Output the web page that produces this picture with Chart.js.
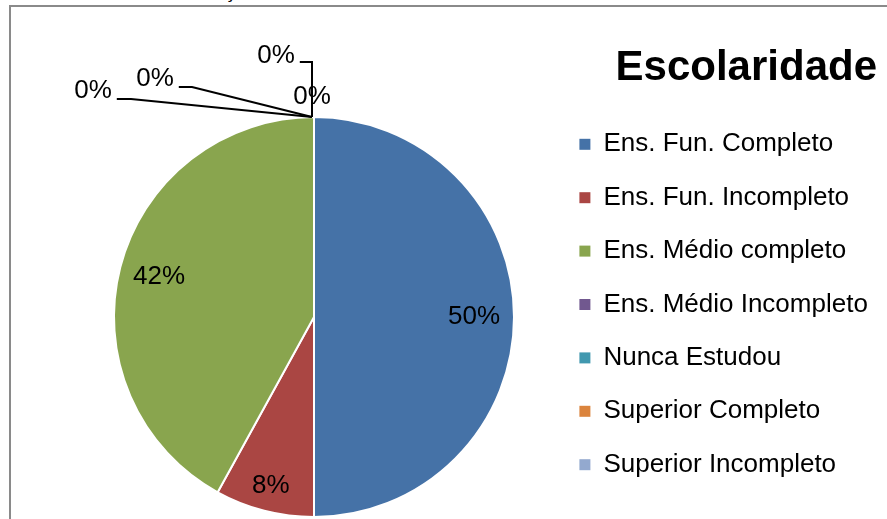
<!DOCTYPE html>
<html>
<head>
<meta charset="utf-8">
<script src="https://cdn.jsdelivr.net/npm/chart.js@4.4.0/dist/chart.umd.min.js"></script>
<style>
  html, body { margin: 0; padding: 0; background: #fff; }
  #wrap { position: relative; width: 887px; height: 519px; overflow: hidden; }
  #frame { position: absolute; left: 9px; top: 5px; right: -5px; bottom: -5px;
           border-left: 2px solid #8a8a8a; border-top: 2px solid #8a8a8a; }
  #cut { position: absolute; left: 225px; top: -18px; line-height: 20px;
         font: bold 18px "Liberation Sans", Arial, sans-serif; }
  canvas { position: absolute; left: 0; top: 0; }
</style>
</head>
<body>
<div id="wrap">
  <div id="cut">ç</div>
  <div id="frame"></div>
  <canvas id="chart" width="887" height="519"></canvas>
</div>
<script>
// Escolaridade - pie data
const categories = [
  'Ens. Fun. Completo',
  'Ens. Fun. Incompleto',
  'Ens. Médio completo',
  'Ens. Médio Incompleto',
  'Nunca Estudou',
  'Superior Completo',
  'Superior Incompleto'
];
const values = [50, 8, 42, 0, 0, 0, 0];
const colors = ['#4572A7', '#AA4643', '#89A54E', '#71588F', '#4198AF', '#DB843D', '#93A9CF'];

const FONT = '"Liberation Sans", Arial, sans-serif';

// callouts for the empty slices (offsets from the slice anchor)
const zeroCallouts = [
  { dx: -2, dy: -20 },
  { dx: -38, dy: -61, elbow: [-2, -55] },
  { dx: -159, dy: -38, elbow: [-122, -30] },
  { dx: -221, dy: -26, elbow: [-183, -18] }
];

const pieLabels = {
  id: 'pieLabels',
  afterDatasetsDraw(chart) {
    const ctx = chart.ctx;
    const meta = chart.getDatasetMeta(0);
    const data = chart.data.datasets[0].data;
    const total = data.reduce((a, b) => a + b, 0);
    let z = 0;
    ctx.save();
    ctx.font = '26px ' + FONT;
    ctx.fillStyle = '#000';
    ctx.strokeStyle = '#000';
    ctx.lineWidth = 2;
    ctx.textAlign = 'center';
    ctx.textBaseline = 'middle';
    meta.data.forEach((arc, i) => {
      const p = arc.getProps(['x', 'y', 'startAngle', 'endAngle', 'outerRadius'], true);
      const share = data[i] / total;
      const text = Math.round(share * 100) + '%';
      const mid = (p.startAngle + p.endAngle) / 2;
      if (data[i] > 0) {
        const f = share < 0.1 ? 0.87 : 0.8;
        ctx.fillText(text, p.x + Math.cos(mid) * p.outerRadius * f, p.y + Math.sin(mid) * p.outerRadius * f);
        return;
      }
      const ax = p.x + Math.cos(mid) * p.outerRadius;
      const ay = p.y + Math.sin(mid) * p.outerRadius;
      const c = zeroCallouts[z++] || zeroCallouts[0];
      const lx = ax + c.dx, ly = ay + c.dy;
      ctx.fillText(text, lx, ly);
      if (c.elbow) {
        const w = ctx.measureText(text).width;
        const ey = ay + c.elbow[1];
        ctx.beginPath();
        ctx.moveTo(lx + w / 2 + 5, ey);
        ctx.lineTo(ax + c.elbow[0], ey);
        ctx.lineTo(ax - 2, ay);
        ctx.stroke();
      }
    });
    ctx.restore();
  }
};

// keep the legend on the right, full height, single column
const legendBox = {
  id: 'legendBox',
  beforeLayout(chart) {
    const lg = chart.legend;
    if (!lg || lg._patched) return;
    const fit = lg.fit;
    lg.fit = function () {
      this.maxHeight = 519;
      fit.call(this);
      this.width = 324;
    };
    lg._patched = true;
  },
  afterLayout(chart) {
    const lg = chart.legend;
    lg.left = 552; lg.right = 877; lg.width = 325;
    lg.top = 0; lg.bottom = 519; lg.height = 519;
  }
};

new Chart(document.getElementById('chart'), {
  type: 'pie',
  data: {
    labels: categories,
    datasets: [{
      data: values,
      backgroundColor: colors,
      borderColor: '#fff',
      borderWidth: 2
    }]
  },
  options: {
    responsive: false,
    animation: false,
    layout: { padding: { left: 75, top: 116, right: 10, bottom: 1 } },
    plugins: {
      tooltip: { enabled: false },
      legend: {
        position: 'right',
        align: 'start',
        title: {
          display: true,
          text: 'Escolaridade',
          position: 'end',
          color: '#000',
          font: { family: FONT, size: 42, weight: 'bold', lineHeight: 1.2 },
          padding: { top: 47, bottom: 6.5 }
        },
        labels: {
          boxWidth: 11,
          boxHeight: 11,
          padding: 27.4,
          color: '#000',
          font: { family: FONT, size: 26 },
          generateLabels: (chart) => chart.data.labels.map((text, i) => ({
            text,
            fillStyle: colors[i],
            strokeStyle: colors[i],
            lineWidth: 0,
            hidden: false,
            index: i,
            fontColor: '#000'
          }))
        }
      }
    }
  },
  plugins: [pieLabels, legendBox]
});
</script>
</body>
</html>
